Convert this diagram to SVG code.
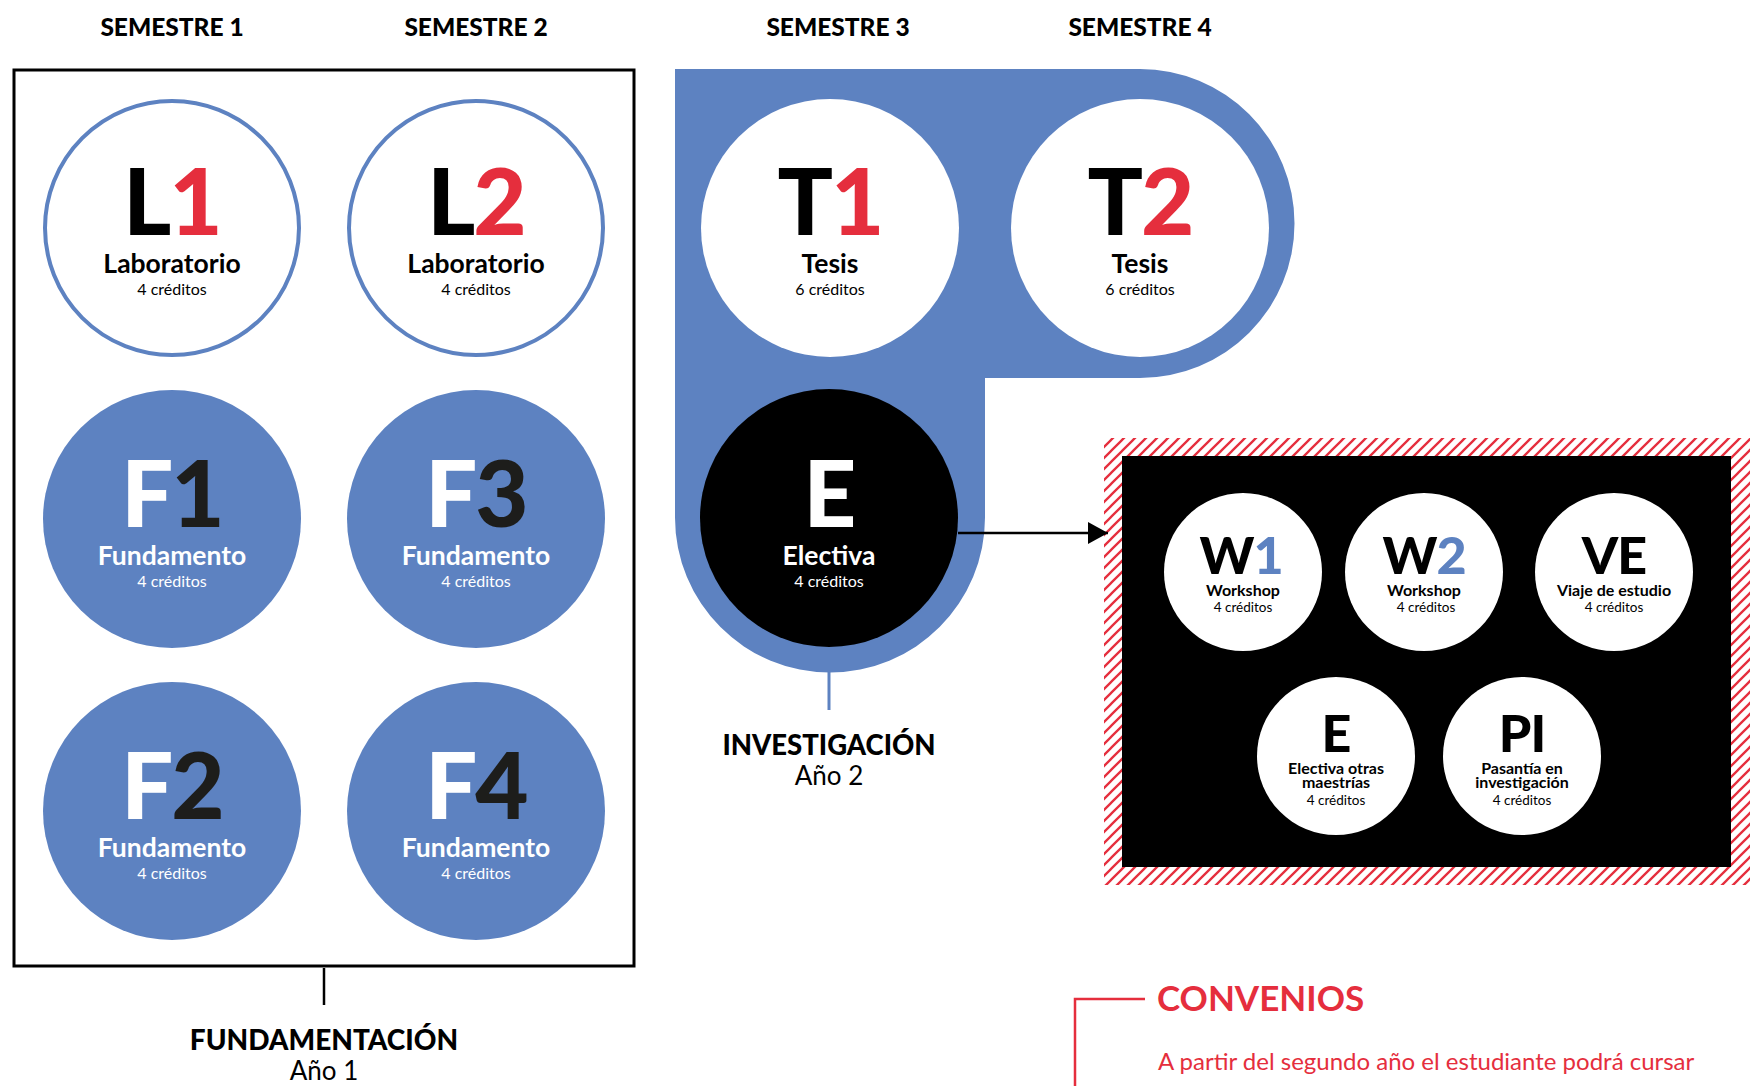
<svg xmlns="http://www.w3.org/2000/svg" width="1759" height="1086" viewBox="0 0 1759 1086">
<style>
.hdr{font-family:Lato,"Liberation Sans",sans-serif;font-weight:900;font-size:24.5px;fill:#000;text-anchor:middle}
.big{font-family:Lato,"Liberation Sans",sans-serif;font-weight:900;font-size:92px;text-anchor:middle;letter-spacing:-2px}
.lbl{font-family:Lato,"Liberation Sans",sans-serif;font-weight:700;font-size:26.5px;text-anchor:middle}
.cr{font-family:Lato,"Liberation Sans",sans-serif;font-weight:400;font-size:16px;text-anchor:middle}
.sbig{font-family:Lato,"Liberation Sans",sans-serif;font-weight:900;font-size:52px;text-anchor:middle;letter-spacing:-1px}
.slbl{font-family:Lato,"Liberation Sans",sans-serif;font-weight:700;font-size:16px;text-anchor:middle;fill:#000}
.scr{font-family:Lato,"Liberation Sans",sans-serif;font-weight:400;font-size:13.5px;text-anchor:middle;fill:#000}
.sec{font-family:Lato,"Liberation Sans",sans-serif;font-weight:900;font-size:28px;text-anchor:middle;fill:#000}
.year{font-family:Lato,"Liberation Sans",sans-serif;font-weight:400;font-size:26px;text-anchor:middle;fill:#000}
.blue{fill:#5d82c1}
.red{fill:#e52e3d}
.ink{fill:#1d1d1b}
.w{fill:#fff}
.k{fill:#000}
</style>
<defs>
<pattern id="hatch" patternUnits="userSpaceOnUse" width="11" height="11">
<path d="M-2,2 L2,-2 M0,11 L11,0 M9,13 L13,9" stroke="#e52e3d" stroke-width="2.3"/>
</pattern>
<marker id="arr" viewBox="0 0 20 22" refX="20" refY="11" markerWidth="20" markerHeight="22" markerUnits="userSpaceOnUse" orient="auto">
<path d="M0,0 L20,11 L0,22 Z" fill="#000"/>
</marker>
</defs>
<rect width="1759" height="1086" fill="#fff"/>

<g id="headers">
<text class="hdr" x="172" y="36">SEMESTRE 1</text>
<text class="hdr" x="476" y="36">SEMESTRE 2</text>
<text class="hdr" x="838" y="36">SEMESTRE 3</text>
<text class="hdr" x="1140" y="36">SEMESTRE 4</text>
</g>

<g id="year1-frame">
<rect x="14" y="70" width="620" height="896" fill="none" stroke="#000" stroke-width="3"/>
</g>

<g id="year2-frame">
<path d="M675,69 H1140 A154.5,154.5 0 0 1 1140,378 H985 V517.5 A155,155 0 0 1 675,517.5 Z" class="blue"/>
</g>

<g id="convenios-frame">
<rect x="1104" y="438" width="646" height="447" fill="url(#hatch)"/>
<rect x="1122" y="456" width="609" height="411" fill="#000"/>
</g>

<g id="connectors">
<line x1="324" y1="968" x2="324" y2="1005" stroke="#000" stroke-width="2.5"/>
<line x1="829" y1="672" x2="829" y2="710" stroke="#5d82c1" stroke-width="3"/>
<line x1="958" y1="533" x2="1108" y2="533" stroke="#000" stroke-width="2.5" marker-end="url(#arr)"/>
<path d="M1145,999 H1075 V1086" fill="none" stroke="#e52e3d" stroke-width="2.5"/>
</g>

<g id="L1">
<circle cx="172" cy="228" r="127" fill="#fff" stroke="#5d82c1" stroke-width="4"/>
<text class="big" x="172" y="235"><tspan class="k">L</tspan><tspan class="red">1</tspan></text>
<text class="lbl k" x="172" y="273">Laboratorio</text>
<text class="cr k" x="172" y="295">4 créditos</text>
</g>
<g id="L2">
<circle cx="476" cy="228" r="127" fill="#fff" stroke="#5d82c1" stroke-width="4"/>
<text class="big" x="476" y="235"><tspan class="k">L</tspan><tspan class="red">2</tspan></text>
<text class="lbl k" x="476" y="273">Laboratorio</text>
<text class="cr k" x="476" y="295">4 créditos</text>
</g>
<g id="F1">
<circle cx="172" cy="519" r="129" class="blue"/>
<text class="big" x="172" y="527"><tspan class="w">F</tspan><tspan class="ink">1</tspan></text>
<text class="lbl w" x="172" y="565">Fundamento</text>
<text class="cr w" x="172" y="587">4 créditos</text>
</g>
<g id="F3">
<circle cx="476" cy="519" r="129" class="blue"/>
<text class="big" x="476" y="527"><tspan class="w">F</tspan><tspan class="ink">3</tspan></text>
<text class="lbl w" x="476" y="565">Fundamento</text>
<text class="cr w" x="476" y="587">4 créditos</text>
</g>
<g id="F2">
<circle cx="172" cy="811" r="129" class="blue"/>
<text class="big" x="172" y="819"><tspan class="w">F</tspan><tspan class="ink">2</tspan></text>
<text class="lbl w" x="172" y="857">Fundamento</text>
<text class="cr w" x="172" y="879">4 créditos</text>
</g>
<g id="F4">
<circle cx="476" cy="811" r="129" class="blue"/>
<text class="big" x="476" y="819"><tspan class="w">F</tspan><tspan class="ink">4</tspan></text>
<text class="lbl w" x="476" y="857">Fundamento</text>
<text class="cr w" x="476" y="879">4 créditos</text>
</g>

<g id="T1">
<circle cx="830" cy="228" r="129" fill="#fff"/>
<text class="big" x="830" y="235"><tspan class="k">T</tspan><tspan class="red">1</tspan></text>
<text class="lbl k" x="830" y="273">Tesis</text>
<text class="cr k" x="830" y="295">6 créditos</text>
</g>
<g id="T2">
<circle cx="1140" cy="228" r="129" fill="#fff"/>
<text class="big" x="1140" y="235"><tspan class="k">T</tspan><tspan class="red">2</tspan></text>
<text class="lbl k" x="1140" y="273">Tesis</text>
<text class="cr k" x="1140" y="295">6 créditos</text>
</g>
<g id="E">
<circle cx="829" cy="518" r="129" fill="#000"/>
<text class="big w" x="829" y="527">E</text>
<text class="lbl w" x="829" y="565">Electiva</text>
<text class="cr w" x="829" y="587">4 créditos</text>
</g>

<g id="W1">
<circle cx="1243" cy="572" r="79" fill="#fff"/>
<text class="sbig" x="1241" y="574"><tspan class="k">W</tspan><tspan class="blue">1</tspan></text>
<text class="slbl" x="1243" y="596">Workshop</text>
<text class="scr" x="1243" y="612">4 créditos</text>
</g>
<g id="W2">
<circle cx="1424" cy="572" r="79" fill="#fff"/>
<text class="sbig" x="1424" y="574"><tspan class="k">W</tspan><tspan class="blue">2</tspan></text>
<text class="slbl" x="1424" y="596">Workshop</text>
<text class="scr" x="1426" y="612">4 créditos</text>
</g>
<g id="VE">
<circle cx="1614" cy="572" r="79" fill="#fff"/>
<text class="sbig k" x="1614" y="574">VE</text>
<text class="slbl" x="1614" y="596">Viaje de estudio</text>
<text class="scr" x="1614" y="612">4 créditos</text>
</g>
<g id="E2">
<circle cx="1336" cy="756" r="79" fill="#fff"/>
<text class="sbig k" x="1336" y="752">E</text>
<text class="slbl" x="1336" y="774">Electiva otras</text>
<text class="slbl" x="1336" y="788">maestrías</text>
<text class="scr" x="1336" y="805">4 créditos</text>
</g>
<g id="PI">
<circle cx="1522" cy="756" r="79" fill="#fff"/>
<text class="sbig k" x="1522" y="752">PI</text>
<text class="slbl" x="1522" y="774">Pasantía en</text>
<text class="slbl" x="1522" y="788">investigación</text>
<text class="scr" x="1522" y="805">4 créditos</text>
</g>

<g id="labels">
<text class="sec" x="324" y="1050">FUNDAMENTACIÓN</text>
<text class="year" x="324" y="1080">Año 1</text>
<text class="sec" x="829" y="755" style="font-size:27.5px">INVESTIGACIÓN</text>
<text class="year" x="829" y="785">Año 2</text>
<text x="1157" y="1011" font-family="Lato,'Liberation Sans',sans-serif" font-weight="700" font-size="35" fill="#e52e3d">CONVENIOS</text>
<text x="1158" y="1070" font-family="Lato,'Liberation Sans',sans-serif" font-weight="400" font-size="24" fill="#e52e3d">A partir del segundo año el estudiante podrá cursar</text>
</g>
</svg>
